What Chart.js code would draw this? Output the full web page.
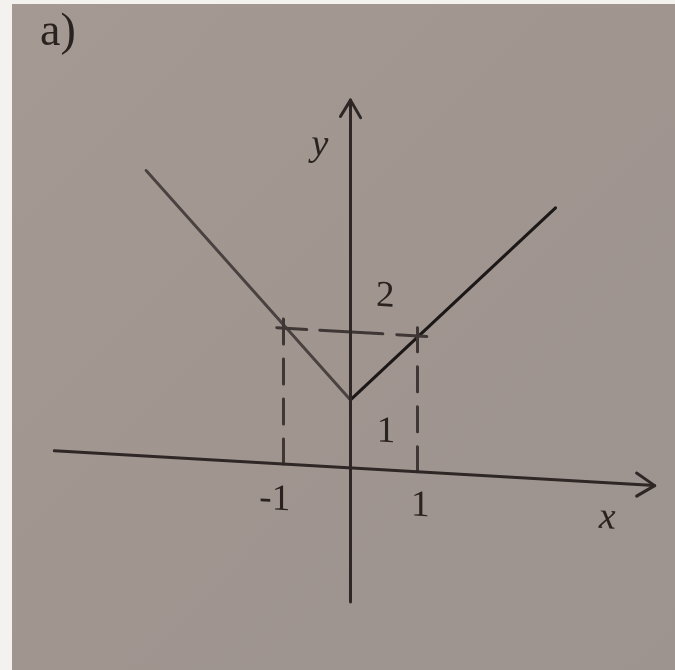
<!DOCTYPE html>
<html>
<head>
<meta charset="utf-8">
<script src="https://cdn.jsdelivr.net/npm/chart.js@4/dist/chart.umd.min.js"></script>
<style>
  html, body { margin: 0; padding: 0; background: #f4f2ee; }
  #wrap { width: 675px; height: 670px; position: relative; }
</style>
</head>
<body>
<div id="wrap"><canvas id="c" width="675" height="670"></canvas></div>
<script>
// y = |x| + 1, drawn as two straight pieces meeting at the vertex
const leftBranch  = [[-3.05, 4.2], [0, 1]];
const rightBranch = [[0, 1], [3.06, 4.0]];

// coordinate axes and their arrowheads
const xAxisLine  = [[-4.42, 0], [4.54, 0]];
const xAxisArrow = [[4.27, 0.17], [4.54, 0], [4.27, -0.17]];
const yAxisLine  = [[0, -1.97], [0, 5.41]];
const yAxisArrow = [[-0.15, 5.16], [0, 5.41], [0.15, 5.16]];

// dashed guides through (-1, 2) and (1, 2)
const guideLeft  = [[-1, 0], [-1, 2.18]];
const guideTop   = [[-1.1, 2], [1.15, 2]];
const guideRight = [[1, 0], [1, 2.12]];

// text labels: [text, x, y, style]
const tickLabels = [
  ['2',  0.52,  2.55, 'num'],
  ['1',  0.53,  0.56, 'num'],
  ['-1', -1.13, -0.53, 'num'],
  ['1',  1.04, -0.50, 'num'],
  ['y', -0.455, 4.72, 'var'],
  ['x',  3.83, -0.52, 'var']
];
const partLabel = 'a)';

// axis window
const xMin = -5.231, xMax = 4.843;
const yMin = -2.971, yMax = 6.882;

const SKEW = 0.058;
const INK = '#29221f';

const toPts = arr => arr.map(p => ({ x: p[0], y: p[1] }));
function seg(data, color, width, dash) {
  return {
    data: toPts(data),
    showLine: true,
    borderColor: color,
    borderWidth: width,
    borderDash: dash || [],
    pointRadius: 0,
    fill: false,
    tension: 0,
    clip: false,
    borderCapStyle: 'round',
    borderJoinStyle: 'round'
  };
}

const paper = {
  id: 'paper',
  beforeDraw(chart) {
    const { ctx, width, height } = chart;
    ctx.save();
    ctx.fillStyle = '#f4f2ee';
    ctx.fillRect(0, 0, width, height);
    const g = ctx.createLinearGradient(0, 0, width, height);
    g.addColorStop(0, '#a59a93');
    g.addColorStop(0.5, '#a0958f');
    g.addColorStop(1, '#9d9490');
    ctx.fillStyle = g;
    ctx.fillRect(12, 4, width - 12, height - 4);
    // part label, upper left
    ctx.fillStyle = INK;
    ctx.font = '46px "Liberation Serif", serif';
    ctx.textBaseline = 'middle';
    ctx.textAlign = 'left';
    ctx.fillText(partLabel, 40, 33);
    ctx.restore();
  },
  beforeDatasetsDraw(chart) {
    const ox = chart.scales.x.getPixelForValue(0);
    chart.ctx.save();
    chart.ctx.transform(1, SKEW, 0, 1, 0, -SKEW * ox);
  },
  afterDatasetsDraw(chart) {
    const { ctx, scales } = chart;
    ctx.fillStyle = INK;
    ctx.textAlign = 'center';
    ctx.textBaseline = 'middle';
    tickLabels.forEach(([t, x, y, kind]) => {
      ctx.font = kind === 'var'
        ? 'italic 38px "Liberation Serif", serif'
        : '37px "Liberation Serif", serif';
      ctx.fillText(t, scales.x.getPixelForValue(x), scales.y.getPixelForValue(y));
    });
    ctx.restore();
  }
};

new Chart(document.getElementById('c'), {
  type: 'scatter',
  data: {
    datasets: [
      seg(xAxisLine, '#2e2725', 3),
      seg(xAxisArrow, '#2e2725', 3),
      seg(yAxisLine, '#2e2725', 3),
      seg(yAxisArrow, '#2e2725', 3),
      seg(guideLeft, '#3f3735', 3, [25, 15]),
      seg(guideTop, '#3f3735', 3, [30, 13, 63, 14]),
      seg(guideRight, '#3f3735', 3, [25, 15]),
      seg(leftBranch, '#4a4240', 3),
      seg(rightBranch, '#1c1817', 3)
    ]
  },
  options: {
    responsive: false,
    animation: false,
    layout: { padding: 0 },
    plugins: { legend: { display: false }, tooltip: { enabled: false } },
    scales: {
      x: { type: 'linear', min: xMin, max: xMax, display: false },
      y: { type: 'linear', min: yMin, max: yMax, display: false }
    }
  },
  plugins: [paper]
});
</script>
</body>
</html>
